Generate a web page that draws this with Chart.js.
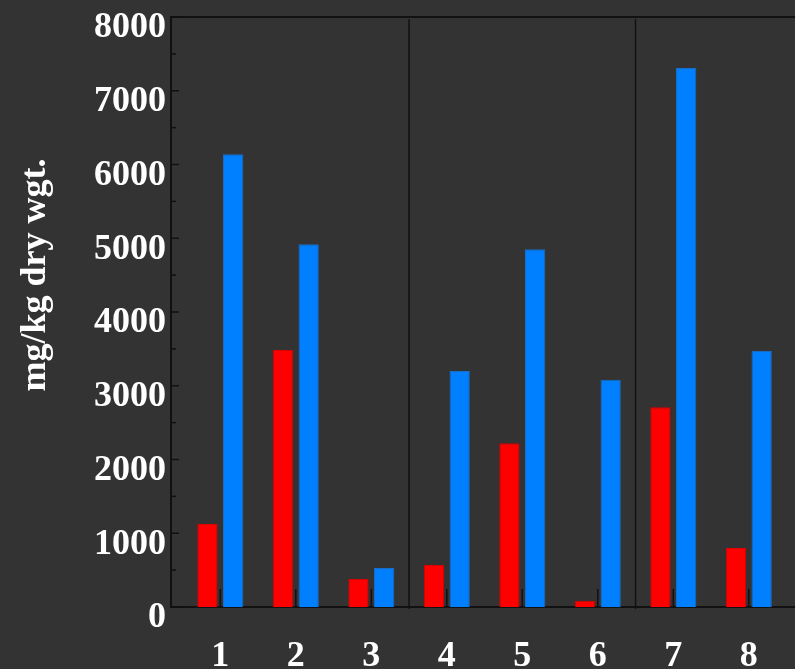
<!DOCTYPE html>
<html>
<head>
<meta charset="utf-8">
<script src="https://cdn.jsdelivr.net/npm/chart.js@4.4.0/dist/chart.umd.min.js"></script>
<style>
  html, body { margin: 0; padding: 0; background: #333333; }
  .chart-wrap { width: 795px; height: 669px; position: relative; }
</style>
</head>
<body>
<div class="chart-wrap"><canvas id="myChart"></canvas></div>
<script>
const categories = [1, 2, 3, 4, 5, 6, 7, 8];
const redValues = [1125, 3485, 380, 570, 2220, 85, 2710, 800];
const blueValues = [6140, 4920, 530, 3200, 4850, 3080, 7310, 3470];
const yTicks = [0, 1000, 2000, 3000, 4000, 5000, 6000, 7000, 8000];
const groupBreaks = [3.5, 6.5];
const yTitle = 'mg/kg dry wgt.';

const labelFont = { family: '"Liberation Serif", "Times New Roman", serif', size: 36, weight: 'bold' };

function line(ctx, x1, y1, x2, y2) {
    ctx.beginPath();
    ctx.moveTo(x1, y1);
    ctx.lineTo(x2, y2);
    ctx.stroke();
}

// frame top, inward ticks, group separators and the rotated y title
const decorations = {
    id: 'decorations',
    afterDatasetsDraw(chart) {
        const ctx = chart.ctx;
        const area = chart.chartArea;
        const xs = chart.scales.x;
        const ys = chart.scales.y;
        ctx.save();
        ctx.strokeStyle = '#111111';
        ctx.lineWidth = 2;
        line(ctx, area.left, area.top, area.right, area.top);

        ctx.lineWidth = 1.5;
        yTicks.forEach((v, i) => {
            const py = ys.getPixelForValue(v);
            line(ctx, area.left, py, area.left + 8, py);
            if (i < yTicks.length - 1) {
                const pm = ys.getPixelForValue((v + yTicks[i + 1]) / 2);
                line(ctx, area.left, pm, area.left + 5, pm);
            }
        });

        groupBreaks.forEach(b => {
            const px = xs.getPixelForValue(b);
            line(ctx, px, area.top + 2, px, area.bottom + 2);
        });

        categories.forEach(c => {
            const px = xs.getPixelForValue(c);
            line(ctx, px, area.bottom - 18, px, area.bottom);
        });

        ctx.translate(36, 275);
        ctx.rotate(-Math.PI / 2);
        ctx.fillStyle = '#ffffff';
        ctx.font = 'bold 36px "Liberation Serif", "Times New Roman", serif';
        ctx.textAlign = 'center';
        ctx.textBaseline = 'middle';
        ctx.fillText(yTitle, 0, 0);
        ctx.restore();
    }
};

const ctx = document.getElementById('myChart').getContext('2d');
const myChart = new Chart(ctx, {
    type: 'bar',
    data: {
        datasets: [{
            data: categories.map((c, i) => ({ x: c, y: redValues[i] })),
            backgroundColor: '#ff0000',
            borderColor: '#d80000',
            borderWidth: 1,
            categoryPercentage: 0.681,
            barPercentage: 0.79
        }, {
            data: categories.map((c, i) => ({ x: c, y: blueValues[i] })),
            backgroundColor: '#0080ff',
            borderColor: '#1a6cc4',
            borderWidth: 1,
            categoryPercentage: 0.681,
            barPercentage: 0.79
        }]
    },
    options: {
        responsive: true,
        maintainAspectRatio: false,
        animation: false,
        layout: { padding: { top: 17, left: 0, right: 0, bottom: 0 } },
        plugins: {
            legend: { display: false },
            tooltip: { enabled: false }
        },
        scales: {
            x: {
                type: 'linear',
                offset: false,
                min: 0.347,
                max: 8.612,
                grid: { display: false, drawTicks: false, offset: false },
                border: { display: true, color: '#111111', width: 2 },
                afterBuildTicks: s => { s.ticks = categories.map(v => ({ value: v })); },
                afterFit: s => { s.height = 62; s.paddingLeft = 0; s.paddingRight = 0; },
                ticks: {
                    color: '#ffffff',
                    font: labelFont,
                    padding: 28,
                    maxRotation: 0,
                    autoSkip: false,
                    callback: v => String(v)
                }
            },
            y: {
                min: 0,
                max: 8000,
                grid: { display: false, drawTicks: false },
                border: { display: true, color: '#111111', width: 2 },
                afterBuildTicks: s => { s.ticks = yTicks.map(v => ({ value: v })); },
                afterFit: s => { s.width = 171; s.paddingTop = 0; s.paddingBottom = 0; },
                ticks: {
                    color: '#ffffff',
                    font: labelFont,
                    padding: 5,
                    labelOffset: 11,
                    callback: v => String(v)
                }
            }
        }
    },
    plugins: [decorations]
});
</script>
</body>
</html>
